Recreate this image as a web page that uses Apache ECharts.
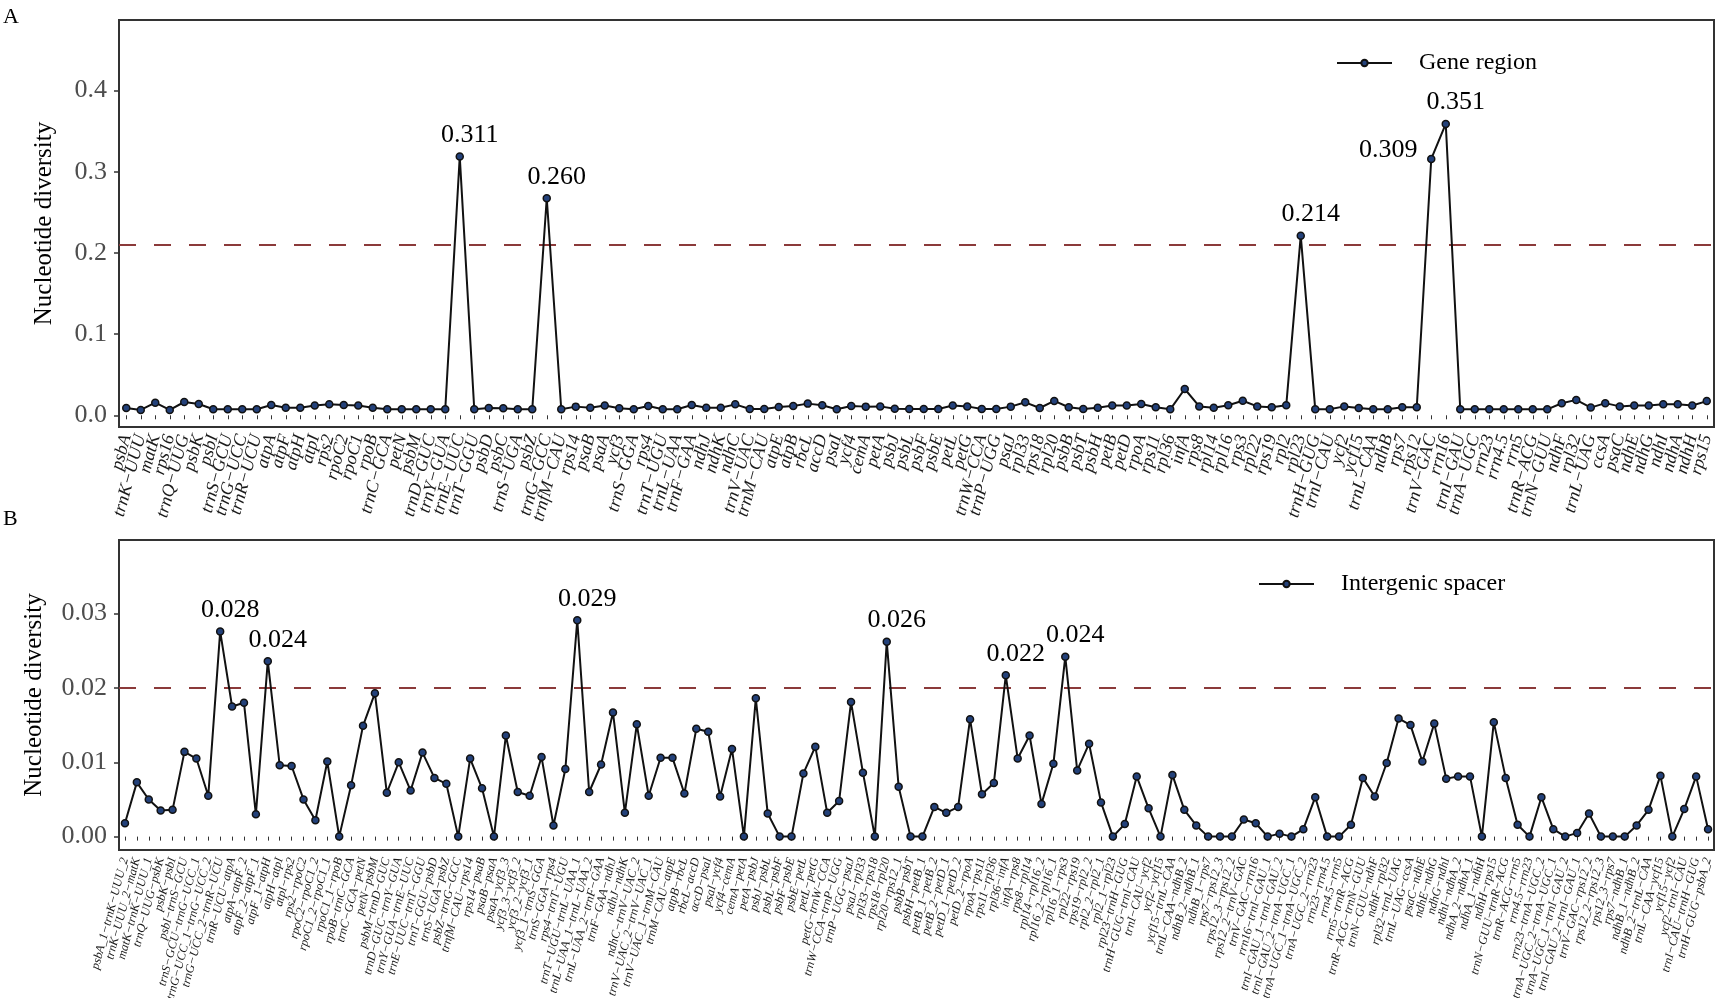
<!DOCTYPE html>
<html><head><meta charset="utf-8">
<script src="https://cdn.jsdelivr.net/npm/echarts@6/dist/echarts.min.js"></script>
<style>html,body{margin:0;padding:0;background:#fff}#c{width:1717px;height:998px}</style>
</head><body><div id="c"></div>
<script>
// ---------- Panel A: gene regions ----------
const genesA = ['psbA','trnK-UUU','matK','rps16','trnQ-UUG','psbK','psbI','trnS-GCU','trnG-UCC','trnR-UCU',
'atpA','atpF','atpH','atpI','rps2','rpoC2','rpoC1','rpoB','trnC-GCA','petN',
'psbM','trnD-GUC','trnY-GUA','trnE-UUC','trnT-GGU','psbD','psbC','trnS-UGA','psbZ','trnG-GCC',
'trnfM-CAU','rps14','psaB','psaA','ycf3','trnS-GGA','rps4','trnT-UGU','trnL-UAA','trnF-GAA',
'ndhJ','ndhK','ndhC','trnV-UAC','trnM-CAU','atpE','atpB','rbcL','accD','psaI',
'ycf4','cemA','petA','psbJ','psbL','psbF','psbE','petL','petG','trnW-CCA',
'trnP-UGG','psaJ','rpl33','rps18','rpl20','psbB','psbT','psbH','petB','petD',
'rpoA','rps11','rpl36','infA','rps8','rpl14','rpl16','rps3','rpl22','rps19',
'rpl2','rpl23','trnH-GUG','trnI-CAU','ycf2','ycf15','trnL-CAA','ndhB','rps7','rps12',
'trnV-GAC','rrn16','trnI-GAU','trnA-UGC','rrn23','rrn4.5','rrn5','trnR-ACG','trnN-GUU','ndhF',
'rpl32','trnL-UAG','ccsA','psaC','ndhE','ndhG','ndhI','ndhA','ndhH','rps15'];
const diversityA = [0.009,0.0066,0.0156,0.0066,0.0164,0.014,0.0074,0.0074,0.0074,0.0074,
0.0127,0.0094,0.0094,0.012,0.0135,0.0127,0.012,0.0094,0.0074,0.0074,
0.0074,0.0074,0.0074,0.3187,0.0074,0.009,0.0086,0.0074,0.0074,0.2674,
0.0074,0.0107,0.0094,0.012,0.0086,0.0074,0.0115,0.0074,0.0074,0.0127,
0.0094,0.0094,0.0135,0.0078,0.0078,0.0103,0.0115,0.0144,0.0123,0.0074,
0.0115,0.0107,0.011,0.0082,0.0078,0.0078,0.0078,0.012,0.011,0.0078,
0.0078,0.0107,0.016,0.009,0.0177,0.0099,0.0078,0.0094,0.012,0.012,
0.014,0.0099,0.0074,0.0324,0.011,0.0094,0.0123,0.018,0.011,0.0099,
0.0123,0.2213,0.0074,0.0074,0.011,0.009,0.0074,0.0074,0.0099,0.0099,
0.3158,0.359,0.0074,0.0074,0.0074,0.0074,0.0074,0.0074,0.0074,0.0148,
0.019,0.0095,0.015,0.011,0.012,0.012,0.0135,0.0135,0.012,0.0175];
const peakIdxA = [23, 29, 81, 90, 91];
const peakTextA = ['0.311', '0.260', '0.214', '0.309', '0.351'];
const thresholdA = 0.207;
const yTicksA = [0, 0.1, 0.2, 0.3, 0.4];

// ---------- Panel B: intergenic spacers ----------
const spacersB = ['psbA_1-trnK-UUU_2','trnK-UUU_2-matK','matK-trnK-UUU_1','trnQ-UUG-psbK','psbK-psbI','psbI-trnS-GCU','trnS-GCU-trnG-UCC_1','trnG-UCC_1-trnG-UCC_2','trnG-UCC_2-trnR-UCU','trnR-UCU-atpA',
'atpA-atpF_2','atpF_2-atpF_1','atpF_1-atpH','atpH-atpI','atpI-rps2','rps2-rpoC2','rpoC2-rpoC1_2','rpoC1_2-rpoC1_1','rpoC1_1-rpoB','rpoB-trnC-GCA',
'trnC-GCA-petN','petN-psbM','psbM-trnD-GUC','trnD-GUC-trnY-GUA','trnY-GUA-trnE-UUC','trnE-UUC-trnT-GGU','trnT-GGU-psbD','trnS-UGA-psbZ','psbZ-trnG-GCC','trnfM-CAU-rps14',
'rps14-psaB','psaB-psaA','psaA-ycf3_3','ycf3_3-ycf3_2','ycf3_2-ycf3_1','ycf3_1-trnS-GGA','trnS-GGA-rps4','rps4-trnT-UGU','trnT-UGU-trnL-UAA_1','trnL-UAA_1-trnL-UAA_2',
'trnL-UAA_2-trnF-GAA','trnF-GAA-ndhJ','ndhJ-ndhK','ndhC-trnV-UAC_2','trnV-UAC_2-trnV-UAC_1','trnV-UAC_1-trnM-CAU','trnM-CAU-atpE','atpB-rbcL','rbcL-accD','accD-psaI',
'psaI-ycf4','ycf4-cemA','cemA-petA','petA-psbJ','psbJ-psbL','psbL-psbF','psbF-psbE','psbE-petL','petL-petG','petG-trnW-CCA',
'trnW-CCA-trnP-UGG','trnP-UGG-psaJ','psaJ-rpl33','rpl33-rps18','rps18-rpl20','rpl20-rps12_1','psbB-psbT','psbH-petB_1','petB_1-petB_2','petB_2-petD_1',
'petD_1-petD_2','petD_2-rpoA','rpoA-rps11','rps11-rpl36','rpl36-infA','infA-rps8','rps8-rpl14','rpl14-rpl16_2','rpl16_2-rpl16_1','rpl16_1-rps3',
'rpl22-rps19','rps19-rpl2_2','rpl2_2-rpl2_1','rpl2_1-rpl23','rpl23-trnH-GUG','trnH-GUG-trnI-CAU','trnI-CAU-ycf2','ycf2-ycf15','ycf15-trnL-CAA','trnL-CAA-ndhB_2',
'ndhB_2-ndhB_1','ndhB_1-rps7','rps7-rps12_3','rps12_3-rps12_2','rps12_2-trnV-GAC','trnV-GAC-rrn16','rrn16-trnI-GAU_1','trnI-GAU_1-trnI-GAU_2','trnI-GAU_2-trnA-UGC_1','trnA-UGC_1-trnA-UGC_2',
'trnA-UGC_2-rrn23','rrn23-rrn4.5','rrn4.5-rrn5','rrn5-trnR-ACG','trnR-ACG-trnN-GUU','trnN-GUU-ndhF','ndhF-rpl32','rpl32-trnL-UAG','trnL-UAG-ccsA','psaC-ndhE',
'ndhE-ndhG','ndhG-ndhI','ndhI-ndhA_2','ndhA_2-ndhA_1','ndhA_1-ndhH','ndhH-rps15','trnN-GUU-trnR-ACG','trnR-ACG-rrn5','rrn4.5-rrn23','rrn23-trnA-UGC_2',
'trnA-UGC_2-trnA-UGC_1','trnA-UGC_1-trnI-GAU_2','trnI-GAU_2-trnI-GAU_1','trnV-GAC-rps12_2','rps12_2-rps12_3','rps12_3-rps7','rps7-ndhB_1','ndhB_1-ndhB_2','ndhB_2-trnL-CAA','trnL-CAA-ycf15',
'ycf15-ycf2','ycf2-trnI-CAU','trnI-CAU-trnH-GUG','trnH-GUG-psbA_2'];
const diversityB = [0.0018,0.0073,0.0050,0.0035,0.0036,0.0114,0.0105,0.0055,0.0276,0.0175,
0.0180,0.0030,0.0236,0.0096,0.0095,0.0050,0.0022,0.0101,0,0.0069,
0.0149,0.0193,0.0059,0.0100,0.0062,0.0113,0.0079,0.0071,0,0.0105,
0.0065,0,0.0136,0.0060,0.0055,0.0107,0.0015,0.0091,0.0291,0.0060,
0.0097,0.0167,0.0032,0.0151,0.0055,0.0106,0.0106,0.0058,0.0145,0.0141,
0.0054,0.0118,0,0.0186,0.0031,0,0,0.0085,0.0121,0.0032,
0.0048,0.0181,0.0086,0,0.0262,0.0067,0,0,0.0040,0.0032,
0.0040,0.0158,0.0057,0.0072,0.0217,0.0105,0.0136,0.0044,0.0098,0.0242,
0.0089,0.0125,0.0046,0,0.0017,0.0081,0.0038,0,0.0083,0.0036,
0.0015,0,0,0,0.0023,0.0018,0,0.0004,0,0.0010,
0.0053,0,0,0.0016,0.0079,0.0054,0.0099,0.0159,0.0150,0.0101,
0.0152,0.0078,0.0081,0.0081,0,0.0154,0.0079,0.0016,0,0.0053,
0.0010,0,0.0005,0.0031,0,0,0,0.0015,0.0036,0.0082,
0,0.0037,0.0081,0.0010];
const peakIdxB = [8, 12, 38, 64, 74, 79];
const peakTextB = ['0.028', '0.024', '0.029', '0.026', '0.022', '0.024'];
const thresholdB = 0.02;
const yTicksB = [0, 0.01, 0.02, 0.03];

// ---------- styling ----------
const SERIF = 'Liberation Serif';
const BORDER = '#333333';
const labelShiftA = {90: [-43, 12]};

function seriesData(values, peakIdx, peakText, shifts) {
  return values.map((v, i) => {
    const k = peakIdx.indexOf(i);
    if (k < 0) return v;
    return {value: v, label: {show: true, position: 'top', distance: 4,
      formatter: peakText[k], offset: (shifts && shifts[i]) || [10, 0],
      fontFamily: SERIF, fontSize: 26, color: '#000'}};
  });
}
const dash = s => s.replace(/-/g, '\u2212');

function xAxis(gi, cats, fs) {
  return {type: 'category', gridIndex: gi, data: cats, boundaryGap: true,
    axisLine: {show: false},
    axisTick: {show: true, alignWithLabel: true, length: 4, lineStyle: {color: BORDER, width: 1}},
    axisLabel: {interval: 0, rotate: 75, margin: 8, fontFamily: SERIF, fontStyle: 'italic',
      fontSize: fs, color: '#1a1a1a', formatter: dash},
    splitLine: {show: false}};
}
function yAxis(gi, min, max, ticks, dec, gap) {
  return {type: 'value', gridIndex: gi, min: min, max: max,
    name: 'Nucleotide diversity', nameLocation: 'middle', nameGap: gap,
    nameTextStyle: {fontFamily: SERIF, fontSize: 25, color: '#000'},
    axisLine: {show: false},
    axisTick: {show: true, length: 5, customValues: ticks, lineStyle: {color: BORDER, width: 1.5}},
    axisLabel: {customValues: ticks, margin: 12, fontFamily: SERIF, fontSize: 26, color: '#4d4d4d',
      formatter: v => v.toFixed(dec)},
    splitLine: {show: false}};
}
function lineSeries(name, idx, data, thr) {
  return {name: name, type: 'line', xAxisIndex: idx, yAxisIndex: idx, data: data,
    symbol: 'circle', symbolSize: 7, showAllSymbol: true,
    lineStyle: {color: '#111', width: 2},
    itemStyle: {color: '#23417a', borderColor: '#111', borderWidth: 1.5},
    emphasis: {disabled: true}, animation: false, z: 3,
    markLine: {silent: true, symbol: 'none', label: {show: false}, z: 1,
      lineStyle: {color: '#8b3a3a', type: [17, 18], width: 2},
      data: [{yAxis: thr}]}};
}

const chart = echarts.init(document.getElementById('c'), null, {renderer: 'canvas'});
chart.setOption({
  backgroundColor: '#fff',
  animation: false,
  grid: [
    {left: 119, top: 20, width: 1595, height: 407, show: true, borderColor: BORDER, borderWidth: 2,
      backgroundColor: 'transparent', containLabel: false, outerBoundsMode: 'none'},
    {left: 119, top: 540, width: 1595, height: 310, show: true, borderColor: BORDER, borderWidth: 2,
      backgroundColor: 'transparent', containLabel: false, outerBoundsMode: 'none'}
  ],
  xAxis: [xAxis(0, genesA, 18), xAxis(1, spacersB, 12.3)],
  yAxis: [yAxis(0, -0.0144, 0.487, yTicksA, 1, 62), yAxis(1, -0.0018, 0.0399, yTicksB, 2, 72)],
  legend: [
    {data: ['Gene region'], left: 1331, top: 46, itemWidth: 55, itemHeight: 8,
      textStyle: {fontFamily: SERIF, fontSize: 24, color: '#000', padding: [0, 0, 0, 22]}},
    {data: ['Intergenic spacer'], left: 1253, top: 567, itemWidth: 55, itemHeight: 8,
      textStyle: {fontFamily: SERIF, fontSize: 24, color: '#000', padding: [0, 0, 0, 22]}}
  ],
  graphic: [
    {type: 'text', left: 3, top: 6, style: {text: 'A', font: '22px "Liberation Serif"', fill: '#000'}},
    {type: 'text', left: 3, top: 508, style: {text: 'B', font: '22px "Liberation Serif"', fill: '#000'}}
  ],
  series: [
    lineSeries('Gene region', 0, seriesData(diversityA, peakIdxA, peakTextA, labelShiftA), thresholdA),
    lineSeries('Intergenic spacer', 1, seriesData(diversityB, peakIdxB, peakTextB, null), thresholdB)
  ]
});
</script></body></html>
